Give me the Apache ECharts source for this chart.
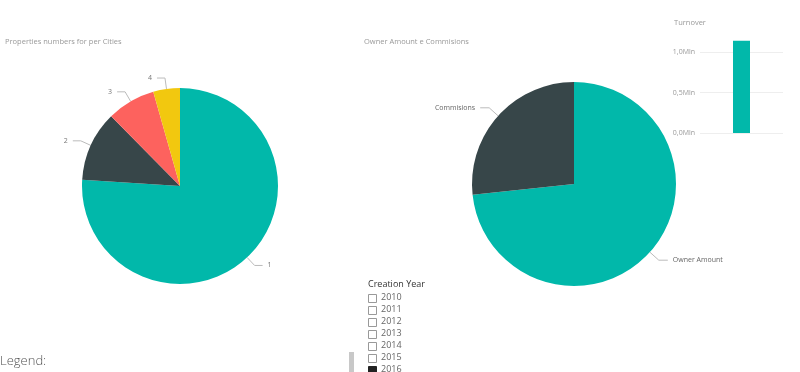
<!DOCTYPE html>
<html><head><meta charset="utf-8">
<script src="https://cdn.jsdelivr.net/npm/echarts@6/dist/echarts.min.js"></script>
<style>html,body{margin:0;padding:0;background:#fff}#c{width:800px;height:372px}</style>
</head><body><div id="c"></div>
<script>
const cityCategories = ['1', '2', '3', '4'];
const cityValues = [76, 11.6, 8, 4.4];
const amountCategories = ['Owner Amount', 'Commisions'];
const amountValues = [73.3, 26.7];
const turnoverCategories = ['Turnover'];
const turnoverValues = [1140000];
const turnoverTicks = [0, 500000, 1000000];
const years = ['2010', '2011', '2012', '2013', '2014', '2015', '2016'];
const selectedYears = ['2016'];

const palette = ['#01B8AA', '#374649', '#FD625E', '#F2C80F'];
const FONT = 'Open Sans';

const chart = echarts.init(document.getElementById('c'), null, {renderer: 'canvas'});

const slicer = [];
slicer.push({type: 'text', left: 368, top: 280, style: {text: 'Creation Year', font: '9px "Open Sans"', fill: '#333'}});
years.forEach((y, i) => {
  const sel = selectedYears.includes(y);
  slicer.push({type: 'rect', shape: {x: 368.5, y: 294.5 + i * 12, width: 8, height: 8},
    style: {fill: sel ? '#222' : '#fff', stroke: sel ? '#222' : '#999', lineWidth: 1}});
  slicer.push({type: 'text', left: 381, top: 293 + i * 12, style: {text: y, font: '9px "Open Sans"', fill: '#666'}});
});
slicer.push({type: 'rect', shape: {x: 349, y: 352, width: 5, height: 20}, style: {fill: '#c8c8c8'}});
slicer.push({type: 'text', left: 0, top: 355, style: {text: 'Legend:', font: '300 13px "Open Sans"', fill: '#555'}});

chart.setOption({
  animation: false,
  textStyle: {fontFamily: FONT},
  title: [
    {text: 'Properties numbers for per Cities', left: 0, top: 33, textStyle: {fontSize: 7.5, fontWeight: 'normal', color: '#999'}},
    {text: 'Owner Amount e Commisions', left: 359, top: 33, textStyle: {fontSize: 7.5, fontWeight: 'normal', color: '#999'}},
    {text: 'Turnover', left: 669, top: 14, textStyle: {fontSize: 7.5, fontWeight: 'normal', color: '#999'}}
  ],
  grid: {left: 700, right: 17, top: 36, bottom: 239},
  xAxis: {type: 'category', data: turnoverCategories, axisLine: {show: false}, axisTick: {show: false}, axisLabel: {show: false}},
  yAxis: {type: 'value', min: 0, max: 1200000, interval: 500000,
    axisLabel: {fontSize: 7, color: '#999', margin: 5, showMaxLabel: false,
      formatter: v => turnoverTicks.includes(v) ? (v / 1e6).toFixed(1).replace('.', ',') + 'Mln' : ''},
    splitLine: {lineStyle: {color: '#eee'}, showMaxLine: false}},
  series: [
    {type: 'pie', center: [180, 186], radius: 98, startAngle: 90, clockwise: true,
      color: palette,
      data: cityCategories.map((c, i) => ({name: c, value: cityValues[i]})),
      label: {formatter: '{b}', fontSize: 7, color: '#777'},
      labelLine: {length: 11, length2: 8, lineStyle: {color: '#bbb', width: 1}}},
    {type: 'pie', center: [574, 184], radius: 102, startAngle: 90, clockwise: true,
      color: palette,
      data: amountCategories.map((c, i) => ({name: c, value: amountValues[i]})),
      label: {formatter: '{b}', fontSize: 7, color: '#666'},
      labelLine: {length: 12, length2: 9, lineStyle: {color: '#bbb', width: 1}}},
    {type: 'bar', data: turnoverValues, barWidth: 17, itemStyle: {color: '#01B8AA'}}
  ],
  graphic: slicer
});
</script></body></html>
